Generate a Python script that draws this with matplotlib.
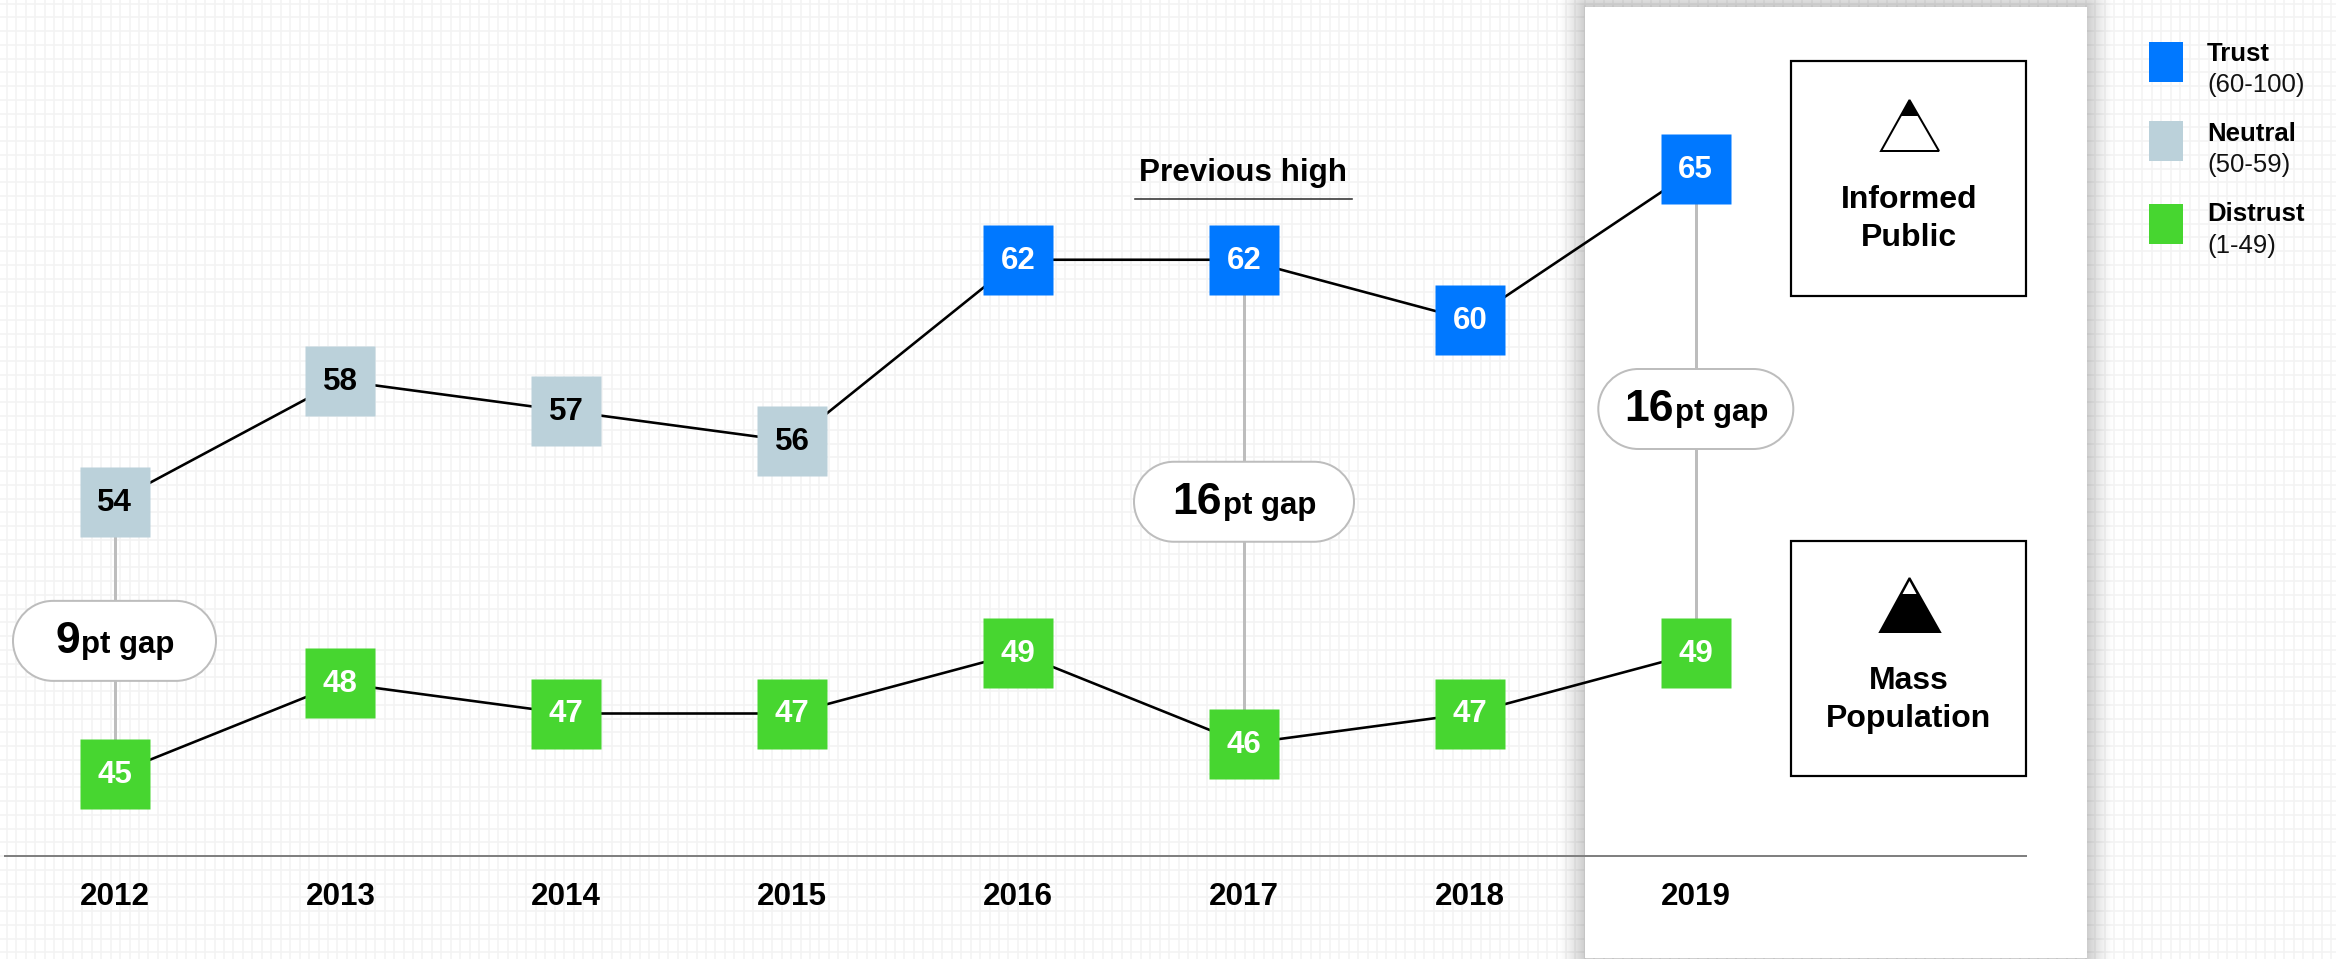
import numpy as np
import matplotlib
matplotlib.use('Agg')
import matplotlib.pyplot as plt
from matplotlib.patches import PathPatch, Polygon, Rectangle
from matplotlib.path import Path

plt.rcParams['font.family'] = ['Liberation Sans', 'DejaVu Sans']

years = [2012, 2013, 2014, 2015, 2016, 2017, 2018, 2019]
informed = [54, 58, 57, 56, 62, 62, 60, 65]
mass = [45, 48, 47, 47, 49, 46, 47, 49]

gap_years = [2012, 2017, 2019]
gap_high = [54, 62, 65]
gap_low = [45, 46, 49]
gap_values = [9, 16, 16]

legend_names = ['Trust', 'Neutral', 'Distrust']
legend_ranges = ['(60-100)', '(50-59)', '(1-49)']

BLUE = '#0078FF'
NEUTRAL = '#BBD1DA'
GREEN = '#47D630'
PX = 0.72  # one pixel in points at dpi 100

W, H = 2336, 959
fig = plt.figure(figsize=(W / 100, H / 100), dpi=100, facecolor='white')

# background layer in pixel coordinates: grid, panel, boxes, legend
bg = fig.add_axes([0, 0, 1, 1])
bg.axis('off')

x = 6.7
while x < W:
    bg.plot([x, x], [0, H], color='#F3F3F3', lw=1.5 * PX, zorder=1)
    x += 9.45
y = 3.5
while y < H:
    bg.plot([0, W], [y, y], color='#F3F3F3', lw=1.5 * PX, zorder=1)
    y += 13.75

# panel with soft shadow
px0, px1, py0, py1 = 1585, 2087, 7, 958
sx, sy = np.meshgrid(np.arange(W) + 0.5, np.arange(H) + 0.5)
dx = np.maximum(np.maximum(px0 - sx, sx - px1), 0)
dy = np.maximum(np.maximum(py0 - sy, sy - py1), 0)
dist = np.hypot(dx, dy)
shade = np.zeros((H, W, 4))
shade[..., 3] = 0.2 * np.clip(1 - dist / 28, 0, 1) ** 1.4
bg.imshow(shade, extent=(0, W, H, 0), zorder=2, interpolation='nearest', aspect='auto')
bg.add_patch(Rectangle((px0, py0), px1 - px0, py1 - py0, fc='white', ec='none', zorder=3))
bg.set_xlim(0, W)
bg.set_ylim(H, 0)

# boxes on the right
for top in [61, 541]:
    bg.add_patch(Rectangle((1791, top), 235, 235, fc='white', ec='black', lw=2.2 * PX, zorder=4))

# mountains
bg.add_patch(Polygon([(1909.5, 100), (1881, 151), (1939, 151)], closed=True, fc='white',
                     ec='black', lw=2 * PX, zorder=5, joinstyle='miter'))
bg.add_patch(Polygon([(1909.5, 100), (1900.5, 116), (1918.5, 116)], closed=True, fc='black',
                     ec='none', zorder=6))
bg.add_patch(Polygon([(1909.5, 578), (1880, 632), (1940, 632)], closed=True, fc='black',
                     ec='black', lw=2 * PX, zorder=5, joinstyle='miter'))
bg.add_patch(Polygon([(1909.5, 581), (1902.5, 594), (1916.5, 594)], closed=True, fc='white',
                     ec='none', zorder=6))

for txt, ypos in zip(['Informed', 'Public', 'Mass', 'Population'], [208, 246, 689, 727]):
    bg.text(1909, ypos, txt, fontsize=23, fontweight='bold', ha='center', va='baseline', zorder=6)

# legend
for name, rng, col, top, y1, y2 in zip(legend_names, legend_ranges, [BLUE, NEUTRAL, GREEN],
                                       [42, 121, 204], [61, 141, 221], [92, 172, 253]):
    bg.add_patch(Rectangle((2149, top), 34, 40, fc=col, ec='none', zorder=4))
    bg.text(2207, y1, name, fontsize=18.5, fontweight='bold', ha='left', va='baseline', zorder=4)
    bg.text(2207, y2, rng, fontsize=18.5, ha='left', va='baseline', color='#111111', zorder=4)

# previous high note
bg.text(1243, 181, 'Previous high', fontsize=22.6, fontweight='bold', ha='center', va='baseline', zorder=4)
bg.plot([1135, 1352], [199, 199], color='#333333', lw=1.6 * PX, zorder=4)

# data layer, axes run from the left end of the baseline to the right box edge
left, right, base = 5, 2026, 856
ax = fig.add_axes([left / W, (H - base) / H, (right - left) / W, base / H])
ax.patch.set_alpha(0)
ax.set_xlim(2012 + (left - 114.5) / 225.9, 2012 + (right - 114.5) / 225.9)
ax.set_ylim(45 - (base - 774) / 30.25, 45 + 774 / 30.25)
for s in ['top', 'left', 'right']:
    ax.spines[s].set_visible(False)
ax.spines['bottom'].set_color('#808080')
ax.spines['bottom'].set_linewidth(2 * PX)
ax.set_yticks([])
ax.set_xticks(years)
ax.set_xticklabels(years, fontsize=22.6, fontweight='bold')
ax.tick_params(axis='x', length=0, pad=19)


def band(v):
    if v >= 60:
        return BLUE, 'white'
    if v >= 50:
        return NEUTRAL, 'black'
    return GREEN, 'white'


def pill_path(x0, y0, w, h):
    r = h / 2
    k = 0.5523 * r
    x1, y1 = x0 + w, y0 + h
    verts = [(x0 + r, y0), (x1 - r, y0),
             (x1 - r + k, y0), (x1, y0 + r - k), (x1, y0 + r),
             (x1, y0 + r + k), (x1 - r + k, y1), (x1 - r, y1),
             (x0 + r, y1),
             (x0 + r - k, y1), (x0, y0 + r + k), (x0, y0 + r),
             (x0, y0 + r - k), (x0 + r - k, y0), (x0 + r, y0),
             (x0 + r, y0)]
    codes = [Path.MOVETO, Path.LINETO] + [Path.CURVE4] * 6 + [Path.LINETO] + [Path.CURVE4] * 6 + [Path.CLOSEPOLY]
    return Path(verts, codes)


# gap connectors sit under the markers
ax.vlines(gap_years, gap_low, gap_high, color='#BDBDBD', lw=3 * PX, zorder=2)

for series in [informed, mass]:
    ax.plot(years, series, color='black', lw=2.6 * PX, zorder=3)
    for yr, v in zip(years, series):
        fc, tc = band(v)
        ax.plot([yr], [v], marker='s', ms=70 * PX, mfc=fc, mec='none', ls='none', zorder=4, clip_on=False)
        ax.annotate(str(v), (yr, v), xytext=(0, -0.6), textcoords='offset points', fontsize=22.5,
                    fontweight='bold', color=tc, ha='center', va='center', zorder=5)

# gap pills, centred on the middle of each gap
renderer = fig.canvas.get_renderer()
pill_widths = [203, 220, 195]
pill_shift = [3, 0, -2]
for yr, hi, lo, gap, w, sh in zip(gap_years, gap_high, gap_low, gap_values, pill_widths, pill_shift):
    cx, cy = bg.transData.inverted().transform(ax.transData.transform((yr, (hi + lo) / 2)))
    cy += sh
    ax.add_patch(PathPatch(pill_path(cx - w / 2, cy - 40, w, 80), transform=bg.transData,
                           fc='white', ec='#BDBDBD', lw=2 * PX, zorder=6, clip_on=False))
    t1 = ax.text(cx, cy + 12, str(gap), transform=bg.transData, fontsize=32, fontweight='bold',
                 ha='right', va='baseline', zorder=7)
    t2 = ax.text(cx, cy + 12, 'pt gap', transform=bg.transData, fontsize=22.5, fontweight='bold',
                 ha='left', va='baseline', zorder=7)
    w1 = t1.get_window_extent(renderer).width
    w2 = t2.get_window_extent(renderer).width
    split = cx - (w1 + w2) / 2 + w1
    t1.set_x(split)
    t2.set_x(split + 1)

fig.savefig('out.png', dpi=100)
